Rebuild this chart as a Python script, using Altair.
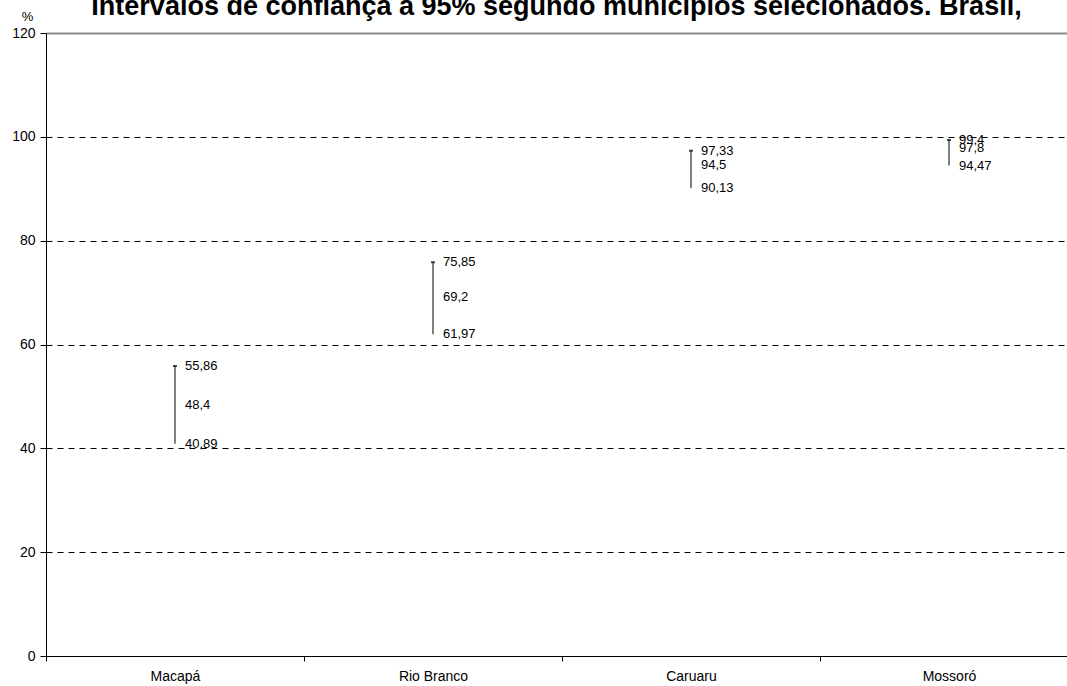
import json
import altair as alt
import pandas as pd

# Confidence intervals (95%) by municipality
municipios = ["Macapá", "Rio Branco", "Caruaru", "Mossoró"]
limite_inferior = [40.89, 61.97, 90.13, 94.47]
estimativa = [48.4, 69.2, 94.5, 97.8]
limite_superior = [55.86, 75.85, 97.33, 99.4]

y_ticks = [0, 20, 40, 60, 80, 100, 120]

FONT = "Liberation Sans"


def fmt(v):
    return str(v).replace(".", ",")


pos = [i + 0.5 for i in range(len(municipios))]

intervalos = pd.DataFrame({
    "municipio": municipios,
    "pos": pos,
    "li": limite_inferior,
    "est": estimativa,
    "ls": limite_superior,
})

rotulos = pd.DataFrame({
    "pos": pos * 3,
    "valor": limite_superior + estimativa + limite_inferior,
})
rotulos["texto"] = rotulos["valor"].map(fmt)

# plot area spans 46..1067 px; each municipality band is 258 px wide
plot_w, plot_h = 1021, 623
band_px = 258
x_max = plot_w / band_px

label_expr = json.dumps(municipios) + "[datum.value]"

x_enc = alt.X(
    "pos:Q",
    scale=alt.Scale(domain=[0, x_max], nice=False, zero=False),
    axis=alt.Axis(
        values=list(range(len(municipios))),
        labelExpr=label_expr,
        labelOffset=band_px / 2,
        labelOverlap=False,
        labelFlush=False,
        labelBound=False,
        labelFont=FONT,
        labelFontSize=14,
        labelColor="#000000",
        labelPadding=8,
        tickSize=5,
        tickColor="#000000",
        domainColor="#000000",
        grid=False,
        title=None,
    ),
)

y_scale = alt.Scale(domain=[0, 120], nice=False)

y_axis = alt.Axis(
    values=y_ticks,
    labelFont=FONT,
    labelFontSize=14,
    labelColor="#000000",
    labelPadding=5,
    tickSize=6,
    tickColor="#000000",
    domainColor="#000000",
    grid=True,
    gridColor={"condition": {"test": "datum.value === 120", "value": "#8c8c8c"}, "value": "#000000"},
    gridWidth={"condition": {"test": "datum.value === 120", "value": 2}, "value": 1},
    gridDash={"condition": {"test": "datum.value === 120", "value": []}, "value": [6, 5]},
    title="%",
    titleFont=FONT,
    titleFontSize=13,
    titleFontWeight="normal",
    titleColor="#000000",
    titleAngle=0,
    titleAlign="center",
    titleBaseline="alphabetic",
    titleX=-19,
    titleY=-13,
)

linhas = alt.Chart(intervalos).mark_rule(color="#000000", strokeWidth=1).encode(
    x=x_enc,
    y=alt.Y("li:Q", scale=y_scale, axis=y_axis),
    y2="ls:Q",
)

topo = alt.Chart(intervalos).mark_tick(
    orient="horizontal", color="#000000", size=4, thickness=2
).encode(
    x="pos:Q",
    y="ls:Q",
)

textos = alt.Chart(rotulos).mark_text(
    align="left", baseline="middle", dx=10, font=FONT, fontSize=13, color="#000000"
).encode(
    x="pos:Q",
    y="valor:Q",
    text="texto:N",
)

chart = (
    alt.layer(linhas, topo, textos)
    .properties(
        width=plot_w,
        height=plot_h,
        autosize=alt.AutoSizeParams(type="none"),
        padding={"left": 46, "top": 33, "right": 0, "bottom": 30},
        title=alt.TitleParams(
            "Intervalos de confiança a 95% segundo municípios selecionados. Brasil,",
            font=FONT,
            fontSize=27,
            fontWeight="bold",
            color="#000000",
            anchor="middle",
            frame="group",
            baseline="alphabetic",
            offset=0,
            dy=32,
        ),
    )
    .configure_view(stroke=None)
    .configure(background="#ffffff")
)

chart.save("out.html", embed_options={"renderer": "svg", "actions": False})
